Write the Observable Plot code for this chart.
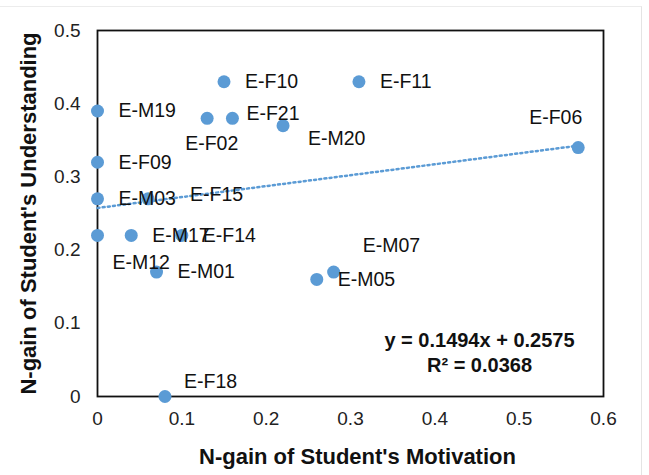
<!DOCTYPE html>
<html>
<head>
<meta charset="utf-8">
<script src="https://cdn.jsdelivr.net/npm/d3@7"></script>
<script src="https://cdn.jsdelivr.net/npm/@observablehq/plot@0.6"></script>
<style>
  html, body { margin: 0; padding: 0; background: #fff; }
  #wrap { position: relative; width: 649px; height: 475px; }
  #edge { position: absolute; left: 0; top: 6px; width: 642px; height: 469px;
          border-top: 1px solid #ececec; border-right: 1px solid #e4e4e4; box-sizing: border-box; pointer-events: none; }
</style>
</head>
<body>
<div id="wrap"><div id="edge"></div></div>
<script>
// ---- data ----
const names = ["E-F10","E-F11","E-M19","E-F02","E-F21","E-M20","E-F06","E-F09","E-M03","E-F15","E-M12","E-M17","E-F14","E-M01","E-M07","E-M05","E-F18"];
const motivation =    [0.15, 0.31, 0.00, 0.13, 0.16, 0.22, 0.57, 0.00, 0.00, 0.06, 0.00, 0.04, 0.10, 0.07, 0.28, 0.26, 0.08];
const understanding = [0.43, 0.43, 0.39, 0.38, 0.38, 0.37, 0.34, 0.32, 0.27, 0.27, 0.22, 0.22, 0.22, 0.17, 0.17, 0.16, 0.00];
const xTicks = [0, 0.1, 0.2, 0.3, 0.4, 0.5, 0.6];
const yTicks = [0, 0.1, 0.2, 0.3, 0.4, 0.5];
const slope = 0.1494;
const intercept = 0.2575;
const rSquared = 0.0368;
const xTitle = "N-gain of Student's Motivation";
const yTitle = "N-gain of Student's Understanding";

const points = names.map((n, i) => ({name: n, x: motivation[i], y: understanding[i]}));
const xMax = d3.max(motivation);
const trend = [0, xMax].map(x => ({x, y: slope * x + intercept}));

// label nudges (pixels) – layout only
const nudge = {
  "E-F21": [14, -5], "E-F02": [-22, 25], "E-M20": [25, 13], "E-F15": [42, -4],
  "E-M12": [15, 27], "E-F18": [19, -15], "E-M07": [29, -26], "E-F06": [-49, -30]
};

const blue = "#5B9BD5";
const font = "'Liberation Sans', Arial, sans-serif";
const fmt = d => String(d);

const labelMarks = points.map(p => {
  const [dx, dy] = nudge[p.name] || [21, 0];
  return Plot.text([p], {x: "x", y: "y", text: "name", dx, dy, textAnchor: "start",
    fontSize: 19.5, fill: "#111"});
});

const chart = Plot.plot({
  width: 649,
  height: 475,
  marginLeft: 97,
  marginRight: 46,
  marginTop: 30,
  marginBottom: 79,
  style: {fontFamily: font, background: "transparent", overflow: "visible"},
  x: {domain: [0, 0.6], ticks: xTicks, label: null},
  y: {domain: [0, 0.5], ticks: yTicks, label: null},
  marks: [
    Plot.axisX({ticks: xTicks, tickFormat: fmt, tickSize: 0, tickPadding: 15, fontSize: 19, color: "#222", label: null}),
    Plot.axisY({ticks: yTicks, tickFormat: fmt, tickSize: 0, tickPadding: 17, fontSize: 19, color: "#222", label: null}),
    Plot.frame({stroke: "#111", strokeWidth: 1.8}),
    Plot.line(trend, {x: "x", y: "y", stroke: blue, strokeWidth: 2.5, strokeDasharray: "2,3.2"}),
    Plot.dot(points, {x: "x", y: "y", r: 6.5, fill: blue, stroke: "none"}),
    ...labelMarks,
    Plot.text([`y = ${slope}x + ${intercept}`], {frameAnchor: "bottom-right", dx: -124, dy: -50,
      textAnchor: "middle", fontSize: 20, fontWeight: "bold", fill: "#111"}),
    Plot.text([`R² = ${rSquared}`], {frameAnchor: "bottom-right", dx: -124, dy: -25,
      textAnchor: "middle", fontSize: 20, fontWeight: "bold", fill: "#111"}),
    Plot.text([xTitle], {frameAnchor: "bottom", dx: 7, dy: 67, textAnchor: "middle",
      fontSize: 22, fontWeight: "bold", fill: "#111"}),
    Plot.text([yTitle], {frameAnchor: "left", dx: -69, dy: 0, rotate: -90, textAnchor: "middle",
      fontSize: 22, fontWeight: "bold", fill: "#111"})
  ]
});
document.getElementById("wrap").appendChild(chart);
</script>
</body>
</html>
